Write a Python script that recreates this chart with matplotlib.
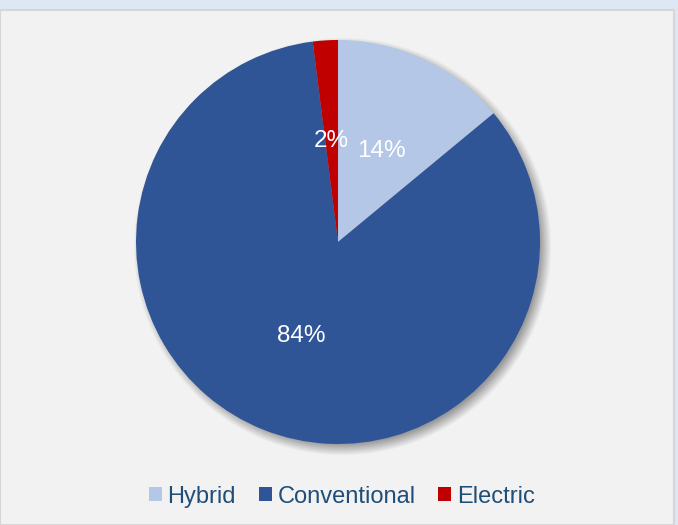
import matplotlib.pyplot as plt
import numpy as np
from matplotlib.patches import Rectangle

labels = ["Hybrid", "Conventional", "Electric"]
shares = [14, 84, 2]
colors = ["#b4c7e7", "#2f5597", "#c00000"]

plt.rcParams["font.family"] = ["Liberation Sans", "DejaVu Sans"]

fig = plt.figure(figsize=(6.78, 5.25), dpi=100, facecolor="#dde8f4")

# chart area panel
fig.patches.append(Rectangle((0, 0), 674 / 678, 515 / 525, transform=fig.transFigure,
                             facecolor="#f2f2f2", edgecolor="#d6d6d6", linewidth=1.5, zorder=-5))

ax = fig.add_axes([0.1708, 0.1158, 0.6555, 0.8465])
ax.set_zorder(2)
ax.patch.set_visible(False)
ax.set_xlim(-1.1, 1.1)
ax.set_ylim(-1.1, 1.1)
ax.set_aspect("equal")
ax.axis("off")

# soft drop shadow under the pie
n = 600
g = np.linspace(-1.1, 1.1, n)
xx, yy = np.meshgrid(g, g)
d = np.hypot(xx - 0.02, yy + 0.025)
alpha = np.clip((1.035 - d) / 0.06, 0, 1) * 0.5
shadow = np.zeros((n, n, 4))
shadow[..., :3] = 0.25
shadow[..., 3] = alpha
ax.imshow(shadow, extent=(-1.1, 1.1, -1.1, 1.1), origin="lower", zorder=1)

wedges, texts, autotexts = ax.pie(
    shares, colors=colors, startangle=90, counterclock=False,
    autopct="%d%%", pctdistance=0.5, radius=1.0,
    textprops=dict(color="white", fontsize=17.5),
    wedgeprops=dict(linewidth=0, zorder=2),
)
for t in autotexts:
    t.set_zorder(3)
ax.set_xlim(-1.1, 1.1)
ax.set_ylim(-1.1, 1.1)

fig.legend(wedges, labels, loc="center", bbox_to_anchor=(0.504, 0.054), ncol=3,
           frameon=False, fontsize=17, handlelength=0.55, handleheight=0.55,
           handletextpad=0.25, columnspacing=0.95, labelcolor="#1f4e79")

fig.savefig("out.png", dpi=100, facecolor=fig.get_facecolor())
